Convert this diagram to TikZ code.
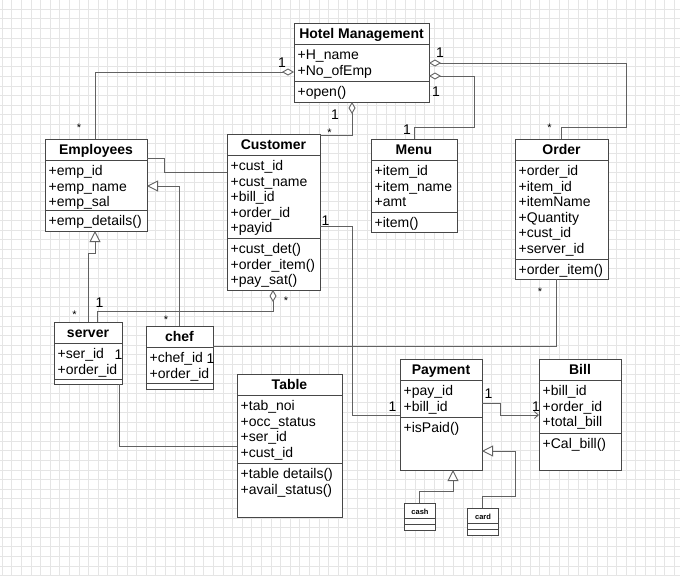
\documentclass[tikz,border=0pt]{standalone}
\usepackage{fontspec}
\setmainfont{Liberation Sans}
\usetikzlibrary{arrows.meta}
\tikzset{
 clsbox/.style={draw=black!72, line width=1pt, fill=white, inner sep=0pt, outer sep=0pt},
 clsline/.style={draw=black!72, line width=1pt},
 clstitle/.style={font=\fontsize{14}{16}\selectfont\bfseries, inner sep=0pt},
 clstext/.style={font=\fontsize{14}{16}\selectfont, inner sep=0pt},
 smalltitle/.style={font=\fontsize{7.5}{9}\selectfont\bfseries, inner sep=0pt},
 conn/.style={draw=black!62, line width=0.9pt},
 agg/.style={conn, -{Diamond[open, length=12pt, width=7pt, fill=white]}},
 gen/.style={conn, -{Triangle[open, length=11pt, width=11pt, fill=white]}},
 nav/.style={conn, -{Straight Barb[length=4pt, width=7pt]}},
 mult/.style={font=\fontsize{14}{16}\selectfont, inner sep=0pt},
 star/.style={font=\fontsize{11}{12}\selectfont, inner sep=0pt},
 gridln/.style={draw=black!10, line width=0.6pt},
}
\newcommand{\umlcls}[9]{%
 \node[clsbox, minimum width={#4-#2}, minimum height={#5-#3}, anchor=north west] (#1) at (#2,#3) {};
 \draw[clsline] (#2,#3+21.5) -- (#4,#3+21.5);
 \draw[clsline] (#2,#6) -- (#4,#6);
 \node[clstitle, anchor=base] (#1-title) at ({(#2+#4)/2},#3+15.5) {#7};
 \foreach \tx [count=\ii] in {#8} \node[clstext, anchor=base west] (#1-a\ii) at (#2+3.5,{#3+21.5+15+15.5*(\ii-1)}) {\tx};
 \foreach \tx [count=\ii] in {#9} \node[clstext, anchor=base west] (#1-m\ii) at (#2+3.5,{#6+15.5+15.5*(\ii-1)}) {\tx};
}
\begin{document}
\begin{tikzpicture}[x=1pt, y=-1pt]
\useasboundingbox (0,0) rectangle (680,576);
\fill[white] (0,0) rectangle (680,576);
\foreach \gx in {2.1,11.7,...,680} \draw[gridln] (\gx,0) -- (\gx,576);
\foreach \gy in {-0.6,9.0,...,576} \draw[gridln] (0,\gy) -- (680,\gy);

% classes
\umlcls{hm}{294}{23}{429}{102}{81}{Hotel Management}{+H\_name,+No\_ofEmp}{+open()}
\umlcls{emp}{45}{139}{147}{231}{210}{Employees}{+emp\_id,+emp\_name,+emp\_sal}{+emp\_details()}
\umlcls{cus}{227}{134}{320}{290}{238}{Customer}{+cust\_id,+cust\_name,+bill\_id,+order\_id,+payid}{+cust\_det(),+order\_item(),+pay\_sat()}
\umlcls{menu}{371}{139}{457}{232}{212}{Menu}{+item\_id,+item\_name,+amt}{+item()}
\umlcls{ord}{515}{139}{608}{279}{259}{Order}{+order\_id,+item\_id,+itemName,+Quantity,+cust\_id,+server\_id}{+order\_item()}
\umlcls{srv}{54}{322}{122}{384}{379}{server}{+ser\_id,+order\_id}{}
\umlcls{chef}{146}{326}{213}{389}{383}{chef}{+chef\_id,+order\_id}{}
\umlcls{tab}{237}{374}{342}{517}{463}{Table}{+tab\_noi,+occ\_status,+ser\_id,+cust\_id}{+table details(),+avail\_status()}
\umlcls{pay}{400}{359}{482}{470}{417}{Payment}{+pay\_id,+bill\_id}{+isPaid()}
\umlcls{bill}{539}{359}{621}{470}{433}{Bill}{+bill\_id,+order\_id,+total\_bill}{+Cal\_bill()}

% small classes
\node[clsbox, line width=0.8pt, minimum width=31, minimum height=27, anchor=north west] (cash) at (404.5,503) {};
\draw[clsline, line width=0.8pt] (404.5,518.5) -- (435.5,518.5);
\draw[clsline, line width=0.8pt] (404.5,524) -- (435.5,524);
\node[smalltitle] (cash-title) at (420,511.5) {cash};
\node[clsbox, line width=0.8pt, minimum width=31, minimum height=27, anchor=north west] (card) at (467.5,508.3) {};
\draw[clsline, line width=0.8pt] (467.5,523.7) -- (498.5,523.7);
\draw[clsline, line width=0.8pt] (467.5,529.3) -- (498.5,529.3);
\node[smalltitle] (card-title) at (483,516.5) {card};

% connectors
\draw[agg] (emp.north -| 95,0) |- (hm.west |- 0,72);
\draw[agg] (cus.east |- 0,135.5) -| (hm.south -| 352,0);
\draw[agg] (menu.north -| 414,0) -- (414,127) -- (474,127) |- (hm.east |- 0,76);
\draw[agg] (ord.north -| 561,0) -- (561,127) -- (626,127) |- (hm.east |- 0,63);
\draw[conn] (emp.east |- 0,158) -- (164,158) |- (cus.west |- 0,172);
\draw[gen] (chef.north -| 179,0) |- (emp.east |- 0,186);
\draw[gen] (srv.north -| 88,0) -- (88,253) -| (emp.south -| 95,0);
\draw[agg] (srv.north -| 97,0) -- (97,311) -| (cus.south -| 273,0);
\draw[conn] (chef.east |- 0,346) -| (ord.south -| 556.5,0);
\draw[conn] (srv.south -| 119,0) |- (tab.west |- 0,446);
\draw[conn] (cus.east |- 0,226) -| (352,415) -- (pay.west |- 0,415);
\draw[nav] (pay.east |- 0,403) -- (500,403) |- (bill.west |- 0,415);
\draw[gen] (cash.north -| 419,0) -- (419,491) -| (pay.south -| 453,0);
\draw[gen] (card.north -| 482,0) -- (482,496) -- (515,496) |- (pay.east |- 0,451);

% multiplicities
\node[mult] (m1) at (282,63) {1};
\node[star] (m2) at (79,128) {*};
\node[mult] (m3) at (335,115) {1};
\node[star] (m4) at (329.5,133) {*};
\node[mult] (m5) at (440,52.5) {1};
\node[mult] (m6) at (436,92) {1};
\node[mult] (m7) at (407,129.5) {1};
\node[star] (m8) at (549.5,128) {*};
\node[mult] (m9) at (325.5,220.5) {1};
\node[star] (m10) at (74.5,315) {*};
\node[mult] (m11) at (99.5,302.5) {1};
\node[star] (m12) at (166,320) {*};
\node[star] (m13) at (286,301) {*};
\node[mult] (m14) at (118.5,355) {1};
\node[mult] (m15) at (210.5,359) {1};
\node[star] (m16) at (540,291.5) {*};
\node[mult] (m17) at (392.5,406.5) {1};
\node[mult] (m18) at (488.5,393.5) {1};
\node[mult] (m19) at (536,406.5) {1};
\end{tikzpicture}
\end{document}
